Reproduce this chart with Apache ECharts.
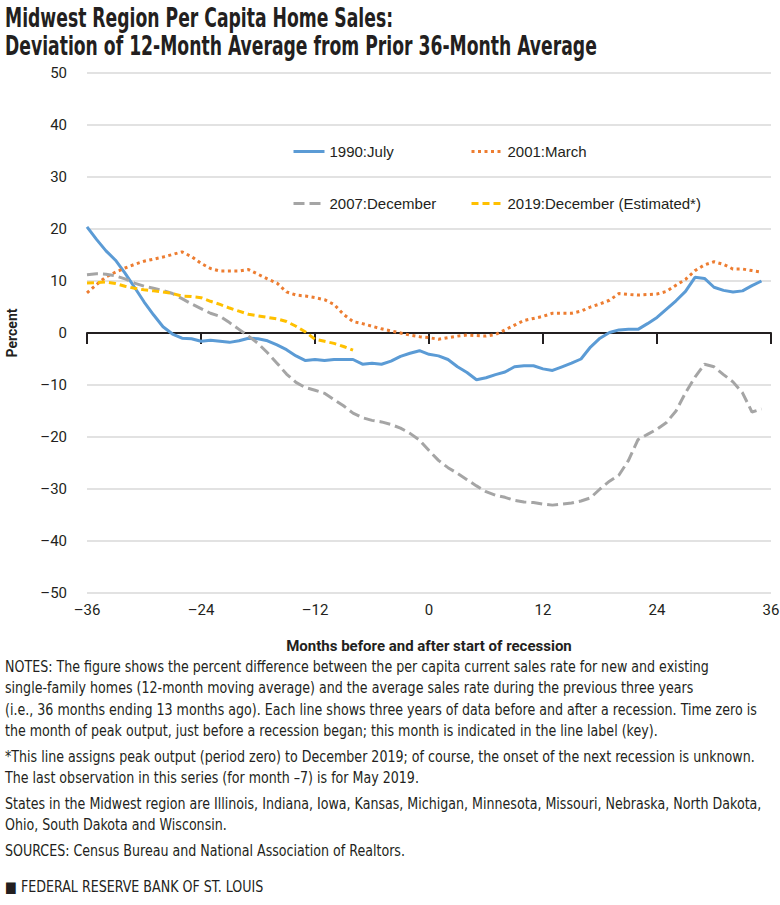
<!DOCTYPE html>
<html>
<head>
<meta charset="utf-8">
<title>Midwest Region Per Capita Home Sales</title>
<script src="https://cdn.jsdelivr.net/npm/echarts@6/dist/echarts.min.js"></script>
<style>
  html, body { margin: 0; padding: 0; background: #fff; }
  #chart { width: 780px; height: 905px; }
</style>
</head>
<body>
<div id="chart"></div>
<script>
// months run from -36 to 35 (one value per month)
var startMonth = -36;

var july1990 = [
  20.4, 18.0, 15.8, 14.0, 11.5, 8.8, 6.0, 3.5, 1.2, -0.2, -1.0, -1.1,
  -1.6, -1.4, -1.6, -1.8, -1.5, -1.0, -1.1, -1.5, -2.3, -3.2, -4.4, -5.3,
  -5.1, -5.3, -5.1, -5.1, -5.1, -6.0, -5.8, -6.0, -5.4, -4.5, -3.9, -3.4,
  -4.1, -4.4, -5.1, -6.5, -7.6, -9.0, -8.6, -8.0, -7.5, -6.5, -6.3, -6.3,
  -6.9, -7.2, -6.5, -5.8, -5.0, -2.7, -1.0, 0.1, 0.6, 0.7, 0.7, 1.8,
  3.0, 4.6, 6.2, 8.0, 10.7, 10.5, 8.8, 8.2, 7.9, 8.1, 9.1, 10.0
];
var march2001 = [
  7.7, 9.3, 10.8, 11.7, 12.5, 13.2, 13.8, 14.2, 14.6, 15.1, 15.6, 14.7,
  13.4, 12.4, 11.9, 11.9, 11.9, 12.2, 11.3, 10.4, 9.6, 7.9, 7.3, 7.1,
  6.8, 6.4, 5.5, 3.6, 2.2, 1.8, 1.3, 0.8, 0.4, 0.0, -0.4, -0.7,
  -0.9, -1.2, -0.9, -0.6, -0.4, -0.5, -0.6, -0.3, 0.6, 1.5, 2.4, 2.8,
  3.2, 3.8, 3.8, 3.8, 4.2, 5.0, 5.6, 6.3, 7.6, 7.4, 7.3, 7.4,
  7.5, 8.0, 9.2, 10.3, 12.0, 13.1, 13.7, 13.2, 12.3, 12.3, 12.0, 11.7
];
var december2007 = [
  11.2, 11.4, 11.3, 11.0, 10.4, 9.6, 9.0, 8.6, 8.2, 7.6, 6.6, 5.6,
  4.7, 3.8, 3.2, 2.0, 0.7, -0.6, -2.0, -3.8, -5.8, -7.9, -9.5, -10.5,
  -11.0, -11.6, -12.8, -14.0, -15.4, -16.3, -16.8, -17.1, -17.6, -18.3, -19.3, -20.6,
  -22.6, -24.5, -25.9, -27.0, -28.2, -29.4, -30.5, -31.2, -31.6, -32.2, -32.5, -32.6,
  -32.9, -33.1, -32.9, -32.7, -32.3, -31.7, -30.0, -28.5, -27.3, -24.5, -20.5, -19.5,
  -18.5, -17.2, -15.0, -11.5, -8.5, -6.0, -6.5, -8.0, -9.4, -11.5, -15.2, -14.6
];
// estimated series stops before period zero
var december2019 = [
  9.6, 9.7, 9.8, 9.5, 9.0, 8.6, 8.3, 8.1, 7.9, 7.6, 7.1, 7.0,
  6.8, 6.1, 5.5, 4.8, 4.2, 3.6, 3.3, 3.0, 2.7, 2.2, 1.3, 0.2,
  -1.2, -1.6, -2.0, -2.6, -3.3
];

var seriesNames = ['1990:July', '2001:March', '2007:December', '2019:December (Estimated*)'];
var seriesColors = ['#5b9bd5', '#ed7d31', '#a5a5a5', '#ffc000'];
var seriesDash = ['solid', [3, 3.5], [11, 5], [7, 4]];
var xMin = -36, xMax = 36, xStep = 12;
var yMin = -50, yMax = 50, yStep = 10;

var titleLines = [
  'Midwest Region Per Capita Home Sales:',
  'Deviation of 12-Month Average from Prior 36-Month Average'
];
var noteParagraphs = [
  ['NOTES: The figure shows the percent difference between the per capita current sales rate for new and existing',
   'single-family homes (12-month moving average) and the average sales rate during the previous three years',
   '(i.e., 36 months ending 13 months ago). Each line shows three years of data before and after a recession. Time zero is',
   'the month of peak output, just before a recession began; this month is indicated in the line label (key).'],
  ['*This line assigns peak output (period zero) to December 2019; of course, the onset of the next recession is unknown.',
   'The last observation in this series (for month \u20137) is for May 2019.'],
  ['States in the Midwest region are Illinois, Indiana, Iowa, Kansas, Michigan, Minnesota, Missouri, Nebraska, North Dakota,',
   'Ohio, South Dakota and Wisconsin.'],
  ['SOURCES: Census Bureau and National Association of Realtors.']
];
var footerText = '\u25A0 FEDERAL RESERVE BANK OF ST. LOUIS';

function toPoints(values) {
  return values.map(function (v, i) { return [startMonth + i, v]; });
}
function dashMinus(v) {
  return String(v).replace('-', '\u2013');
}

var condensed = '"DejaVu Sans Condensed", sans-serif';
var ink = '#231f20';

// 标题和注释：按参考图的行宽横向压缩
var measureCtx = document.createElement('canvas').getContext('2d');
function fitScale(font, text, width) {
  measureCtx.font = font;
  return width / measureCtx.measureText(text).width;
}

var titleFont = 'bold 26px ' + condensed;
var titleScale = fitScale(titleFont, titleLines[1], 592);
var graphics = titleLines.map(function (t, i) {
  return {
    type: 'text', x: 5, y: 18 + i * 28,
    scaleX: titleScale,
    style: { text: t, font: titleFont, fill: ink, textVerticalAlign: 'middle' }
  };
});

var noteFont = '15px ' + condensed;
var noteScale = fitScale(noteFont, noteParagraphs[0][2], 752);
var paraTops = [667, 757, 804, 851];
noteParagraphs.forEach(function (lines, p) {
  lines.forEach(function (t, j) {
    graphics.push({
      type: 'text', x: 5, y: paraTops[p] + j * 21.3,
      scaleX: noteScale,
      style: { text: t, font: noteFont, fill: ink, textVerticalAlign: 'middle' }
    });
  });
});
graphics.push({
  type: 'text', x: 5, y: 887,
  scaleX: noteScale,
  style: { text: footerText, font: '15px ' + condensed, fill: ink, textVerticalAlign: 'middle' }
});

// 图例：每项单独放，对齐成两行两列
var legendText = { fontFamily: 'Liberation Sans', fontSize: 15, color: ink };
var legendSpots = [[292, 144], [470, 144], [292, 196], [470, 196]];
var legends = seriesNames.map(function (name, i) {
  return {
    data: [name], left: legendSpots[i][0], top: legendSpots[i][1],
    padding: 0, itemWidth: 31, itemHeight: 14,
    itemStyle: { opacity: 0 },
    lineStyle: { width: 3, type: seriesDash[i] },
    textStyle: legendText, selectedMode: false
  };
});

var chart = echarts.init(document.getElementById('chart'), null, { renderer: 'svg' });

var option = {
  animation: false,
  backgroundColor: '#fff',
  graphic: graphics,
  legend: legends,
  grid: { left: 87, right: 9, top: 73, bottom: 312, outerBoundsMode: 'none' },
  xAxis: [{
    type: 'value', min: xMin, max: xMax, interval: xStep, position: 'bottom',
    axisLine: { show: false, onZero: false },
    axisTick: { show: false },
    splitLine: { show: false },
    axisLabel: { margin: 9, fontSize: 15, fontFamily: 'Roboto', color: ink, formatter: dashMinus },
    name: 'Months before and after start of recession',
    nameLocation: 'middle', nameGap: 45,
    nameTextStyle: { fontFamily: 'Roboto', fontWeight: 'bold', fontSize: 15, color: ink }
  }, {
    type: 'value', min: xMin, max: xMax, interval: xStep, position: 'bottom',
    axisLine: { show: true, onZero: true, lineStyle: { color: ink, width: 2 } },
    axisTick: { show: true, length: 11, lineStyle: { color: ink, width: 2 } },
    axisLabel: { show: false },
    splitLine: { show: false }
  }],
  yAxis: {
    type: 'value', min: yMin, max: yMax, interval: yStep,
    axisLine: { show: false },
    axisTick: { show: false },
    splitLine: { lineStyle: { color: '#d9d9d9', width: 1.5 } },
    axisLabel: { margin: 20, fontSize: 15, fontFamily: 'Roboto', color: ink, formatter: dashMinus },
    name: 'Percent', nameLocation: 'middle', nameGap: 68, nameRotate: 90,
    nameTextStyle: { fontFamily: 'Roboto', fontWeight: 'bold', fontSize: 14, color: ink }
  },
  series: [july1990, march2001, december2007, december2019].map(function (values, i) {
    return {
      name: seriesNames[i], type: 'line', symbol: 'none', data: toPoints(values),
      color: seriesColors[i],
      lineStyle: { width: 3, color: seriesColors[i], type: seriesDash[i] }
    };
  })
};

chart.setOption(option);
</script>
</body>
</html>
